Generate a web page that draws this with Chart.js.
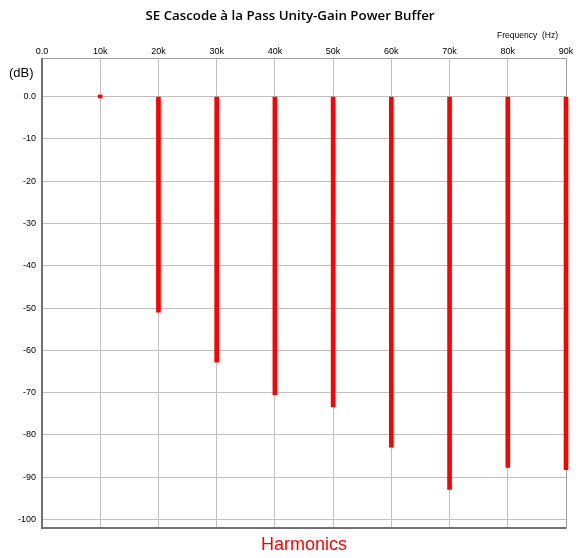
<!DOCTYPE html>
<html><head><meta charset="utf-8">
<script src="https://cdn.jsdelivr.net/npm/chart.js@4/dist/chart.umd.min.js"></script>
<style>html,body{margin:0;padding:0;background:#fff}#wrap{width:578px;height:558px;position:relative}</style>
</head><body><div id="wrap"><canvas id="c" width="578" height="558"></canvas></div>
<script>
const chartTitle = 'SE Cascode à la Pass Unity-Gain Power Buffer';
const xAxisLabel = 'Frequency  (Hz)';
const yAxisLabel = '(dB)';
const bottomLabel = 'Harmonics';
const frequencies = [10000, 20000, 30000, 40000, 50000, 60000, 70000, 80000, 90000];
const levelsDb = [0, -51.0, -62.8, -70.5, -73.4, -82.9, -92.9, -87.7, -88.2];
const xTickValues = [0, 10000, 20000, 30000, 40000, 50000, 60000, 70000, 80000, 90000];
const xTickLabels = ['0.0', '10k', '20k', '30k', '40k', '50k', '60k', '70k', '80k', '90k'];
const yTickValues = [0, -10, -20, -30, -40, -50, -60, -70, -80, -90, -100];
const yTickLabels = ['0.0', '-10', '-20', '-30', '-40', '-50', '-60', '-70', '-80', '-90', '-100'];

const textPlugin = {
  id: 'texts',
  beforeDraw(chart) {
    const ctx = chart.ctx, a = chart.chartArea;
    ctx.save();
    ctx.fillStyle = '#000';
    ctx.textBaseline = 'middle';
    ctx.textAlign = 'center';
    ctx.font = '600 13.3px "Open Sans"';
    ctx.fillText(chartTitle, 290, 16);
    ctx.font = '8.5px "Liberation Sans"';
    ctx.textAlign = 'right';
    ctx.fillText(xAxisLabel, 558, 36);
    ctx.textAlign = 'left';
    ctx.font = '13px "Liberation Sans"';
    ctx.fillText(yAxisLabel, 9, 73);
    ctx.fillStyle = '#ff0000';
    ctx.textAlign = 'center';
    ctx.font = '18px "Liberation Sans"';
    ctx.fillText(bottomLabel, (a.left + a.right) / 2, 545);
    ctx.restore();
  },
  beforeDatasetsDraw(chart) {
    const ctx = chart.ctx, a = chart.chartArea;
    ctx.save();
    ctx.strokeStyle = '#a0a0a0';
    ctx.lineWidth = 1;
    ctx.strokeRect(a.left + 0.5, a.top + 0.5, a.right - a.left, a.bottom - a.top);
    ctx.strokeStyle = '#707070';
    ctx.lineWidth = 2;
    ctx.beginPath();
    ctx.moveTo(a.left, a.top); ctx.lineTo(a.left, a.bottom); ctx.lineTo(a.right, a.bottom);
    ctx.stroke();
    ctx.restore();
  }
};

new Chart(document.getElementById('c'), {
  type: 'bar',
  data: {
    datasets: [{
      data: frequencies.map((f, i) => ({ x: f, y: [0, levelsDb[i]] })),
      backgroundColor: '#ff0000',
      borderWidth: 0,
      barThickness: 4,
      minBarLength: 3,
      clip: false
    }]
  },
  options: {
    responsive: false,
    animation: false,
    layout: { padding: { left: 0, right: 12, top: 0, bottom: 30 } },
    plugins: { legend: { display: false }, tooltip: { enabled: false }, title: { display: false } },
    scales: {
      x: {
        type: 'linear', position: 'top', min: 0, max: 90000, offset: false,
        afterBuildTicks(s) { s.ticks = xTickValues.map(v => ({ value: v })); },
        afterFit(s) { s.height = 58; },
        ticks: {
          autoSkip: false, maxRotation: 0, padding: 1,
          font: { family: 'Liberation Sans', size: 9 }, color: '#000',
          callback: (v) => xTickLabels[xTickValues.indexOf(v)]
        },
        grid: { color: '#c0c0c0', drawTicks: false, offset: false },
        border: { display: false }
      },
      y: {
        type: 'linear', min: -102, max: 9.1,
        afterBuildTicks(s) { s.ticks = yTickValues.map(v => ({ value: v })); },
        afterFit(s) { s.width = 42; },
        ticks: {
          autoSkip: false, padding: 6,
          font: { family: 'Liberation Sans', size: 9 }, color: '#000',
          callback: (v) => yTickLabels[yTickValues.indexOf(v)]
        },
        grid: { color: '#c0c0c0', drawTicks: false },
        border: { display: false }
      }
    }
  },
  plugins: [textPlugin]
});
</script></body></html>
